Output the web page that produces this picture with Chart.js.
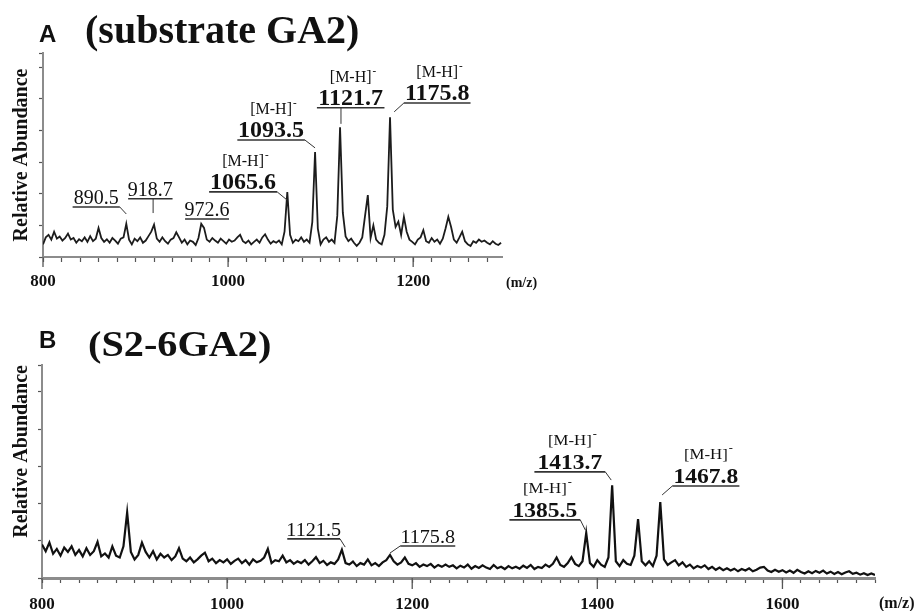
<!DOCTYPE html>
<html>
<head>
<meta charset="utf-8">
<script src="https://cdn.jsdelivr.net/npm/chart.js@4.4.1/dist/chart.umd.min.js"></script>
<style>
  body { margin: 0; background: #fff; }
  #chartA { position: absolute; left: 0; top: 0; }
  #chartB { position: absolute; left: 0; top: 300px; }
</style>
</head>
<body>
<canvas id="chartA" width="919" height="300"></canvas>
<canvas id="chartB" width="919" height="311"></canvas>
<script>
// ---- data: panel A (substrate GA2), m/z 800..1295 every 3
const startA = 800, stepA = 3;
const abundanceA = [
  0.40, 0.62, 0.70, 0.55, 0.80, 0.58, 0.65, 0.52, 0.60, 0.74,   // 800
  0.55, 0.60, 0.45, 0.56, 0.50, 0.62, 0.48, 0.66, 0.50, 0.58,   // 830
  0.92, 0.60, 0.48, 0.56, 0.45, 0.60, 0.52, 0.42, 0.58, 0.62,   // 860
  1.05, 0.55, 0.40, 0.58, 0.50, 0.62, 0.45, 0.52, 0.66, 0.80,   // 890
  1.02, 0.58, 0.48, 0.62, 0.50, 0.42, 0.55, 0.60, 0.78, 0.62,   // 920
  0.45, 0.55, 0.40, 0.52, 0.48, 0.38, 0.60, 1.05, 0.92, 0.55,   // 950
  0.48, 0.60, 0.52, 0.45, 0.58, 0.50, 0.42, 0.55, 0.48, 0.52,   // 980
  0.62, 0.70, 0.50, 0.44, 0.52, 0.40, 0.48, 0.55, 0.45, 0.62,   // 1010
  0.72, 0.55, 0.42, 0.50, 0.45, 0.52, 0.40, 0.80, 2.05, 0.70,   // 1040
  0.45, 0.55, 0.50, 0.62, 0.48, 0.55, 0.45, 1.10, 3.32, 0.90,   // 1070
  0.40, 0.55, 0.62, 0.48, 0.55, 0.45, 1.30, 4.10, 1.40, 0.65,   // 1100
  0.50, 0.58, 0.45, 0.35, 0.45, 0.62, 1.30, 1.96, 0.60, 1.00,   // 1130
  0.55, 0.45, 0.40, 0.70, 1.60, 4.42, 1.50, 0.95, 1.12, 0.70,   // 1160
  1.27, 0.80, 0.55, 0.48, 0.40, 0.55, 0.62, 0.85, 0.50, 0.45,   // 1190
  0.60, 0.48, 0.55, 0.42, 0.58, 0.90, 1.27, 0.95, 0.55, 0.45,   // 1220
  0.62, 0.80, 0.50, 0.40, 0.35, 0.50, 0.45, 0.55, 0.48, 0.52,   // 1250
  0.45, 0.40, 0.50, 0.42, 0.38, 0.45                            // 1280
];
const tickLabelsA = [800, 1000, 1200];
const peakLabelsA = ['890.5', '918.7', '972.6', '1065.6', '1093.5', '1121.7', '1175.8'];
const ionTagA = [false, false, false, true, true, true, true];

// ---- data: panel B (S2-6GA2), m/z 800..1700 every 4
const startB = 800, stepB = 4;
const abundanceB = [
  0.90, 0.72, 0.95, 0.65, 0.78, 0.60, 0.82, 0.70, 0.85, 0.62,   // 800
  0.75, 0.58, 0.80, 0.62, 0.72, 0.97, 0.58, 0.66, 0.55, 0.85,   // 840
  0.60, 0.55, 0.85, 1.76, 0.70, 0.50, 0.62, 0.95, 0.70, 0.55,   // 880
  0.72, 0.50, 0.65, 0.55, 0.62, 0.48, 0.58, 0.80, 0.52, 0.45,   // 920
  0.55, 0.42, 0.50, 0.60, 0.68, 0.45, 0.52, 0.40, 0.48, 0.42,   // 960
  0.50, 0.38, 0.46, 0.52, 0.40, 0.48, 0.36, 0.50, 0.42, 0.46,   // 1000
  0.55, 0.78, 0.40, 0.48, 0.45, 0.60, 0.42, 0.48, 0.38, 0.45,   // 1040
  0.40, 0.48, 0.36, 0.45, 0.56, 0.40, 0.46, 0.35, 0.42, 0.38,   // 1080
  0.50, 0.76, 0.40, 0.36, 0.44, 0.32, 0.40, 0.36, 0.50, 0.34,   // 1120
  0.40, 0.32, 0.42, 0.48, 0.62, 0.45, 0.36, 0.42, 0.55, 0.38,   // 1160
  0.34, 0.40, 0.30, 0.36, 0.32, 0.38, 0.28, 0.35, 0.30, 0.36,   // 1200
  0.30, 0.34, 0.26, 0.33, 0.28, 0.36, 0.25, 0.32, 0.27, 0.34,   // 1240
  0.28, 0.24, 0.35, 0.26, 0.30, 0.24, 0.32, 0.26, 0.30, 0.25,   // 1280
  0.33, 0.27, 0.35, 0.24, 0.30, 0.27, 0.36, 0.30, 0.38, 0.55,   // 1320
  0.35, 0.30, 0.40, 0.56, 0.38, 0.32, 0.45, 1.21, 0.40, 0.30,   // 1360
  0.48, 0.36, 0.30, 0.55, 2.49, 0.45, 0.32, 0.48, 0.38, 0.35,   // 1400
  0.60, 1.58, 0.45, 0.34, 0.45, 0.32, 0.60, 2.04, 0.50, 0.35,   // 1440
  0.42, 0.48, 0.34, 0.42, 0.30, 0.36, 0.26, 0.32, 0.28, 0.34,   // 1480
  0.24, 0.30, 0.22, 0.28, 0.21, 0.26, 0.20, 0.25, 0.18, 0.24,   // 1520
  0.20, 0.26, 0.18, 0.22, 0.28, 0.30, 0.20, 0.16, 0.22, 0.17,   // 1560
  0.21, 0.15, 0.20, 0.14, 0.22, 0.16, 0.12, 0.18, 0.13, 0.19,   // 1600
  0.14, 0.20, 0.12, 0.17, 0.11, 0.16, 0.10, 0.15, 0.18, 0.11,   // 1640
  0.14, 0.09, 0.13, 0.08, 0.12, 0.08                            // 1680
];
const tickLabelsB = [800, 1000, 1200, 1400, 1600];
const peakLabelsB = ['1121.5', '1175.8', '1385.5', '1413.7', '1467.8'];
const ionTagB = [false, false, true, true, true];

// callout placement, in data units (underline from x0 to x1 at height u, leader to tip)
const placeA = [
  { x0: 832, x1: 883, u: 1.58, tip: [890, 1.36] },
  { x0: 892, x1: 940, u: 1.84, tip: [919, 1.39] },
  { x0: 953.5, x1: 1001, u: 1.20 },
  { x0: 979.5, x1: 1053, u: 2.06, tip: [1063.8, 1.80] },
  { x0: 1010, x1: 1083, u: 3.70, tip: [1094, 3.45] },
  { x0: 1096, x1: 1169, u: 4.72, tip: [1122, 4.21] },
  { x0: 1190, x1: 1262, u: 4.87, tip: [1179.5, 4.59] }
];
const placeB = [
  { x0: 1065, x1: 1122, u: 1.05, tip: [1127.6, 0.83] },
  { x0: 1187, x1: 1246.5, u: 0.86, tip: [1176, 0.67] },
  { x0: 1305, x1: 1381.6, u: 1.56, tip: [1387, 1.29] },
  { x0: 1332, x1: 1408.6, u: 2.85, tip: [1415, 2.63] },
  { x0: 1481, x1: 1553.5, u: 2.47, tip: [1470, 2.23] }
];

function toPoints(start, step, vals) {
  return vals.map((v, i) => ({ x: start + step * i, y: v }));
}

function drawText(ctx, text, x, y, font, align, sx) {
  ctx.save();
  ctx.font = font;
  ctx.textAlign = align;
  ctx.textBaseline = 'alphabetic';
  ctx.translate(x, y);
  ctx.scale(sx, 1);
  ctx.fillText(text, 0, 0);
  ctx.restore();
}

const spectrumPlugin = {
  id: 'spectrum',
  afterDatasetsDraw(chart, args, p) {
    const { ctx } = chart;
    const xs = chart.scales.x, ys = chart.scales.y;
    ctx.save();
    ctx.fillStyle = '#111';
    ctx.strokeStyle = '#333';
    p.callouts.forEach(c => {
      const x0 = xs.getPixelForValue(c.x0), x1 = xs.getPixelForValue(c.x1);
      const uy = ys.getPixelForValue(c.u);
      const cx = (x0 + x1) / 2;
      ctx.lineWidth = 1.6;
      ctx.beginPath(); ctx.moveTo(x0, uy); ctx.lineTo(x1, uy); ctx.stroke();
      if (c.tip) {
        const tx = xs.getPixelForValue(c.tip[0]), ty = ys.getPixelForValue(c.tip[1]);
        let sx = tx;
        if (tx < x0 || tx > x1) sx = Math.abs(tx - x0) < Math.abs(tx - x1) ? x0 : x1;
        ctx.lineWidth = 1;
        ctx.beginPath(); ctx.moveTo(sx, uy); ctx.lineTo(tx, ty); ctx.stroke();
      }
      const base = uy - 3;
      if (c.ion) {
        drawText(ctx, c.text, cx, base, p.bigFont, 'center', p.sx);
        ctx.font = p.ionFont;
        const w = ctx.measureText('[M-H]').width * p.sx;
        const ib = base - p.ionGap;
        drawText(ctx, '[M-H]', cx, ib, p.ionFont, 'center', p.sx);
        drawText(ctx, '-', cx + w / 2 + 1, ib - 8, p.supFont, 'left', p.sx);
      } else {
        drawText(ctx, c.text, cx, base, p.smallFont, 'center', p.sx);
      }
    });
    ctx.restore();
  },
  afterDraw(chart, args, p) {
    const { ctx } = chart;
    const xs = chart.scales.x;
    ctx.save();
    // longer ticks at labelled values
    ctx.strokeStyle = '#555';
    ctx.lineWidth = 1.3;
    p.majors.forEach(v => {
      const px = xs.getPixelForValue(v);
      ctx.beginPath(); ctx.moveTo(px, xs.top); ctx.lineTo(px, xs.top + p.majorLen); ctx.stroke();
    });
    ctx.fillStyle = '#111';
    drawText(ctx, '(m/z)', xs.right + 4, xs.top + p.mzDrop, p.mzFont, 'left', 1);
    // panel heading
    drawText(ctx, p.letter, p.letterX, p.letterY, 'bold 24px "Liberation Sans"', 'left', 1);
    drawText(ctx, p.heading, p.headX, p.headY, p.headFont, 'left', p.headSx);
    ctx.restore();
  }
};

function spectrumOptions(p) {
  return {
    responsive: false,
    animation: false,
    events: [],
    layout: { padding: { top: p.top, right: p.right, left: 0, bottom: 0 } },
    plugins: { legend: { display: false }, tooltip: { enabled: false }, spectrum: p },
    scales: {
      x: {
        type: 'linear', min: 800, max: p.xMax,
        border: { color: '#8c8c8c', width: p.axisWidth },
        grid: { drawOnChartArea: false, tickLength: 5, color: '#555', tickWidth: 1.2 },
        ticks: {
          stepSize: 20, autoSkip: false, maxRotation: 0, includeBounds: false,
          padding: p.tickPad, color: '#111',
          font: { family: 'Liberation Serif', weight: 'bold', size: p.tickFont },
          callback: v => p.majors.includes(v) ? String(v) : ''
        },
        afterFit: s => { s.height = p.xHeight; }
      },
      y: {
        min: 0, max: p.yMax,
        border: { color: '#8c8c8c', width: 2 },
        grid: { drawOnChartArea: false, tickLength: 4, color: '#555', tickWidth: 1.2 },
        ticks: { stepSize: 1, padding: 0, callback: () => '' },
        title: {
          display: true, text: 'Relative Abundance', align: p.yTitleAlign, color: '#111',
          font: { family: 'Liberation Serif', weight: 'bold', size: 20 },
          padding: { top: 10, bottom: 0 }
        },
        afterFit: s => { s.width = p.yWidth; }
      }
    }
  };
}

const calloutsA = placeA.map((c, i) => Object.assign({ text: peakLabelsA[i], ion: ionTagA[i] }, c));
const calloutsB = placeB.map((c, i) => Object.assign({ text: peakLabelsB[i], ion: ionTagB[i] }, c));

new Chart(document.getElementById('chartA'), {
  type: 'line',
  data: {
    datasets: [{
      data: toPoints(startA, stepA, abundanceA),
      borderColor: '#1c1c1c', borderWidth: 1.8, pointRadius: 0, tension: 0
    }]
  },
  options: spectrumOptions({
    top: 53, right: 919 - 502, xHeight: 43, yWidth: 43, xMax: 1296, yMax: 6.45,
    axisWidth: 2, tickPad: 9, tickFont: 17, majors: tickLabelsA, majorLen: 10,
    yTitleAlign: 'center', mzDrop: 30, mzFont: 'bold 14px "Liberation Serif"',
    callouts: calloutsA, sx: 1,
    smallFont: '20px "Liberation Serif"', bigFont: 'bold 24px "Liberation Serif"',
    ionFont: '16px "Liberation Serif"', supFont: 'bold 11px "Liberation Serif"', ionGap: 23,
    letter: 'A', letterX: 39, letterY: 42,
    heading: '(substrate GA2)', headX: 85, headY: 43, headFont: 'bold 40px "Liberation Serif"', headSx: 1
  }),
  plugins: [spectrumPlugin]
});

new Chart(document.getElementById('chartB'), {
  type: 'line',
  data: {
    datasets: [{
      data: toPoints(startB, stepB, abundanceB),
      borderColor: '#111', borderWidth: 2.2, pointRadius: 0, tension: 0
    }]
  },
  options: spectrumOptions({
    top: 65, right: 919 - 875, xHeight: 33, yWidth: 42, xMax: 1700, yMax: 5.72,
    axisWidth: 3, tickPad: 11, tickFont: 17, majors: tickLabelsB, majorLen: 11,
    yTitleAlign: 'end', mzDrop: 30, mzFont: 'bold 16px "Liberation Serif"',
    callouts: calloutsB, sx: 1.12,
    smallFont: '18px "Liberation Serif"', bigFont: 'bold 21px "Liberation Serif"',
    ionFont: '15px "Liberation Serif"', supFont: 'bold 11px "Liberation Serif"', ionGap: 24,
    letter: 'B', letterX: 39, letterY: 48,
    heading: '(S2-6GA2)', headX: 88, headY: 56, headFont: 'bold 35px "Liberation Serif"', headSx: 1.15
  }),
  plugins: [spectrumPlugin]
});
</script>
</body>
</html>
